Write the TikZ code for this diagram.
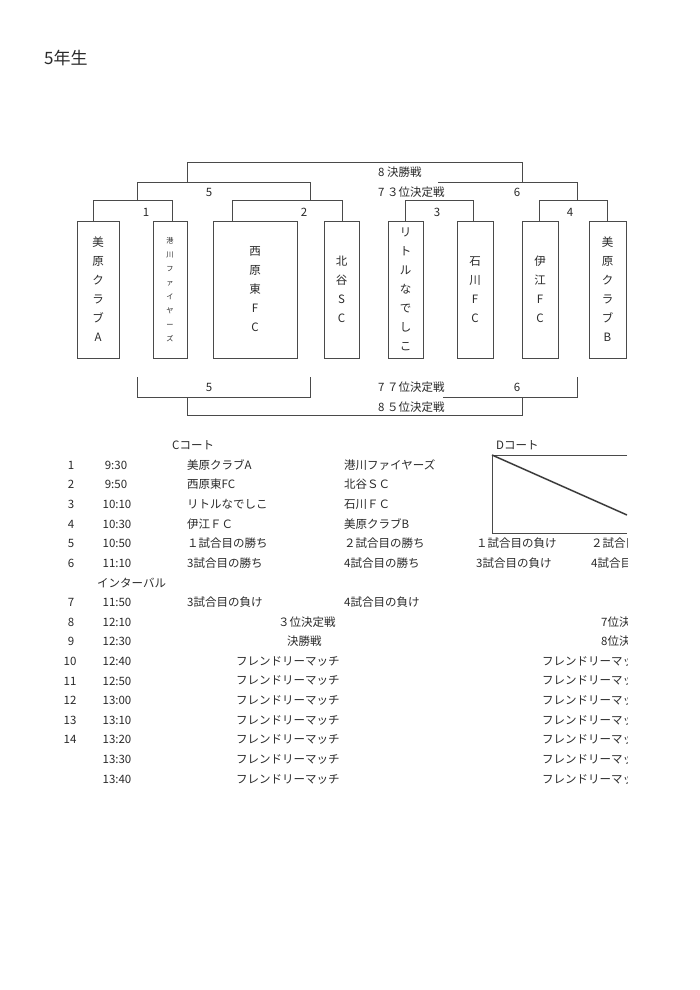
\documentclass[tikz,border=0pt]{standalone}
\usepackage{fontspec}
\setmainfont{Noto Sans CJK JP}
\definecolor{ink}{HTML}{2A2A2A}
\definecolor{lin}{HTML}{4A4A4A}
\begin{document}
\begin{tikzpicture}[x=1pt,y=-1pt,
  every node/.style={text=ink, inner sep=0pt},
  teambox/.style={draw=lin, line width=0.9pt, minimum height=137pt, align=center, font=\fontsize{11.5}{19}\selectfont},
  brk/.style={draw=lin, line width=0.9pt},
  lbl/.style={font=\fontsize{11.5}{13}\selectfont},
  tb/.style={font=\fontsize{11.5}{13}\selectfont, anchor=west},
  tc/.style={font=\fontsize{11.5}{13}\selectfont, anchor=center}]
\useasboundingbox (0,0) rectangle (700,990);
\fill[white] (0,0) rectangle (700,990);

% title
\node[font=\fontsize{17}{19}\selectfont, anchor=west] (title) at (44,58) {5年生};

% team boxes
\node[teambox, minimum width=42pt] (b1) at (98,289.5) {美\\原\\ク\\ラ\\ブ\\A};
\node[teambox, minimum width=34pt, font=\fontsize{7.2}{14}\selectfont] (b2) at (170,289.5) {港\\川\\フ\\ァ\\イ\\ヤ\\ー\\ズ};
\node[teambox, minimum width=84pt] (b3) at (255,289.5) {西\\原\\東\\F\\C};
\node[teambox, minimum width=35pt] (b4) at (341.5,289.5) {北\\谷\\S\\C};
\node[teambox, minimum width=35pt] (b5) at (405.5,289.5) {リ\\ト\\ル\\な\\で\\し\\こ};
\node[teambox, minimum width=36pt] (b6) at (475,289.5) {石\\川\\F\\C};
\node[teambox, minimum width=36pt] (b7) at (540,289.5) {伊\\江\\F\\C};
\node[teambox, minimum width=37pt] (b8) at (607.5,289.5) {美\\原\\ク\\ラ\\ブ\\B};

% top brackets (round 1)
\draw[brk] ([xshift=-5pt]b1.north) -- ++(0,-20) -| ([xshift=2pt]b2.north);
\draw[brk] ([xshift=-23pt]b3.north) -- ++(0,-20) -| ([xshift=0.5pt]b4.north);
\draw[brk] ([xshift=-0.5pt]b5.north) -- ++(0,-20) -| ([xshift=-2pt]b6.north);
\draw[brk] ([xshift=-1pt]b7.north) -- ++(0,-20) -| ([xshift=-0.5pt]b8.north);
% round 2 / final
\coordinate (s5l) at (137,201);
\coordinate (s5r) at (310,201);
\coordinate (f6r) at (577,201);
\coordinate (f6l) at (438,182);
\coordinate (fin) at (522,182);
\draw[brk] (s5l) -- ++(0,-19) -| (s5r);
\draw[brk] (f6l) -| (f6r);
\draw[brk] (187,182) |- (522,162) -- (fin);

% top labels
\node[lbl] (l1) at (146,212) {1};
\node[lbl] (l2) at (304,212) {2};
\node[lbl] (l3) at (437,212) {3};
\node[lbl] (l4) at (570,212) {4};
\node[lbl] (l5) at (209,192) {5};
\node[lbl] (l6) at (517,192) {6};
\node[lbl, anchor=west] (l8) at (378,172) {8 決勝戦};
\node[lbl, anchor=west] (l7) at (378,192) {7 ３位決定戦};

% bottom brackets
\coordinate (u5l) at (137,377);
\coordinate (u5r) at (310,377);
\coordinate (u6r) at (577,377);
\coordinate (u6l) at (443,397);
\coordinate (u8) at (522,397);
\draw[brk] (u5l) |- (310,397) -- (u5r);
\draw[brk] (u6l) -| (u6r);
\draw[brk] (187,397) |- (522,415) -- (u8);

\node[lbl] (m5) at (209,387) {5};
\node[lbl] (m6) at (517,387) {6};
\node[lbl, anchor=west] (m7) at (378,387) {7 ７位決定戦};
\node[lbl, anchor=west] (m8) at (378,407) {8 ５位決定戦};

% schedule
\begin{scope}
\clip (0,0) rectangle (627,990);
\node[tb] (hc) at (172,445) {Cコート};
\node[tb] (hd) at (496,445) {Dコート};
\draw[lin, line width=0.9pt] (627,455) -- (492,455) -- (492,533) -- (627,533);
\draw[lin!80!black, line width=1.5pt] (492,455) -- (627,515);

\node[tc] (n1) at (71,465) {1};
\node[tc] (n2) at (71,484.6) {2};
\node[tc] (n3) at (71,504.3) {3};
\node[tc] (n4) at (71,523.9) {4};
\node[tc] (n5) at (71,543.5) {5};
\node[tc] (n6) at (71,563.1) {6};
\node[tc] (n7) at (71,602.4) {7};
\node[tc] (n8) at (71,622) {8};
\node[tc] (n9) at (71,641.6) {9};
\node[tc] (n10) at (70,661.3) {10};
\node[tc] (n11) at (70,680.9) {11};
\node[tc] (n12) at (70,700.5) {12};
\node[tc] (n13) at (70,720.1) {13};
\node[tc] (n14) at (70,739.8) {14};

\node[tc] (t1) at (116,465) {9:30};
\node[tc] (t2) at (116,484.6) {9:50};
\node[tc] (t3) at (117,504.3) {10:10};
\node[tc] (t4) at (117,523.9) {10:30};
\node[tc] (t5) at (117,543.5) {10:50};
\node[tc] (t6) at (117,563.1) {11:10};
\node[tb] (iv) at (97,582.8) {インターバル};
\node[tc] (t7) at (117,602.4) {11:50};
\node[tc] (t8) at (117,622) {12:10};
\node[tc] (t9) at (117,641.6) {12:30};
\node[tc] (t10) at (117,661.3) {12:40};
\node[tc] (t11) at (117,680.9) {12:50};
\node[tc] (t12) at (117,700.5) {13:00};
\node[tc] (t13) at (117,720.1) {13:10};
\node[tc] (t14) at (117,739.8) {13:20};
\node[tc] (t15) at (117,759.4) {13:30};
\node[tc] (t16) at (117,779) {13:40};

\node[tb] (c1a) at (187,465) {美原クラブA};
\node[tb] (c2a) at (187,484.6) {西原東FC};
\node[tb] (c3a) at (187,504.3) {リトルなでしこ};
\node[tb] (c4a) at (187,523.9) {伊江ＦＣ};
\node[tb] (c5a) at (187,543.5) {１試合目の勝ち};
\node[tb] (c6a) at (187,563.1) {3試合目の勝ち};
\node[tb] (c7a) at (187,602.4) {3試合目の負け};

\node[tb] (c1b) at (344,465) {港川ファイヤーズ};
\node[tb] (c2b) at (344,484.6) {北谷ＳＣ};
\node[tb] (c3b) at (344,504.3) {石川ＦＣ};
\node[tb] (c4b) at (344,523.9) {美原クラブB};
\node[tb] (c5b) at (344,543.5) {２試合目の勝ち};
\node[tb] (c6b) at (344,563.1) {4試合目の勝ち};
\node[tb] (c7b) at (344,602.4) {4試合目の負け};

\node[tb] (d5a) at (476,543.5) {１試合目の負け};
\node[tb] (d6a) at (476,563.1) {3試合目の負け};
\node[tb] (d5b) at (591,543.5) {２試合目の負け};
\node[tb] (d6b) at (591,563.1) {4試合目の負け};

\node[tb] (c8) at (278,622) {３位決定戦};
\node[tb] (c9) at (287,641.6) {決勝戦};
\node[tb] (d8) at (601,622) {7位決定戦};
\node[tb] (d9) at (601,641.6) {8位決定戦};

\node[tb] (f1) at (236,661.3) {フレンドリーマッチ};
\node[tb] (f2) at (236,680.9) {フレンドリーマッチ};
\node[tb] (f3) at (236,700.5) {フレンドリーマッチ};
\node[tb] (f4) at (236,720.1) {フレンドリーマッチ};
\node[tb] (f5) at (236,739.8) {フレンドリーマッチ};
\node[tb] (f6) at (236,759.4) {フレンドリーマッチ};
\node[tb] (f7) at (236,779) {フレンドリーマッチ};
\node[tb] (g1) at (542,661.3) {フレンドリーマッチ};
\node[tb] (g2) at (542,680.9) {フレンドリーマッチ};
\node[tb] (g3) at (542,700.5) {フレンドリーマッチ};
\node[tb] (g4) at (542,720.1) {フレンドリーマッチ};
\node[tb] (g5) at (542,739.8) {フレンドリーマッチ};
\node[tb] (g6) at (542,759.4) {フレンドリーマッチ};
\node[tb] (g7) at (542,779) {フレンドリーマッチ};
\end{scope}
\end{tikzpicture}
\end{document}
